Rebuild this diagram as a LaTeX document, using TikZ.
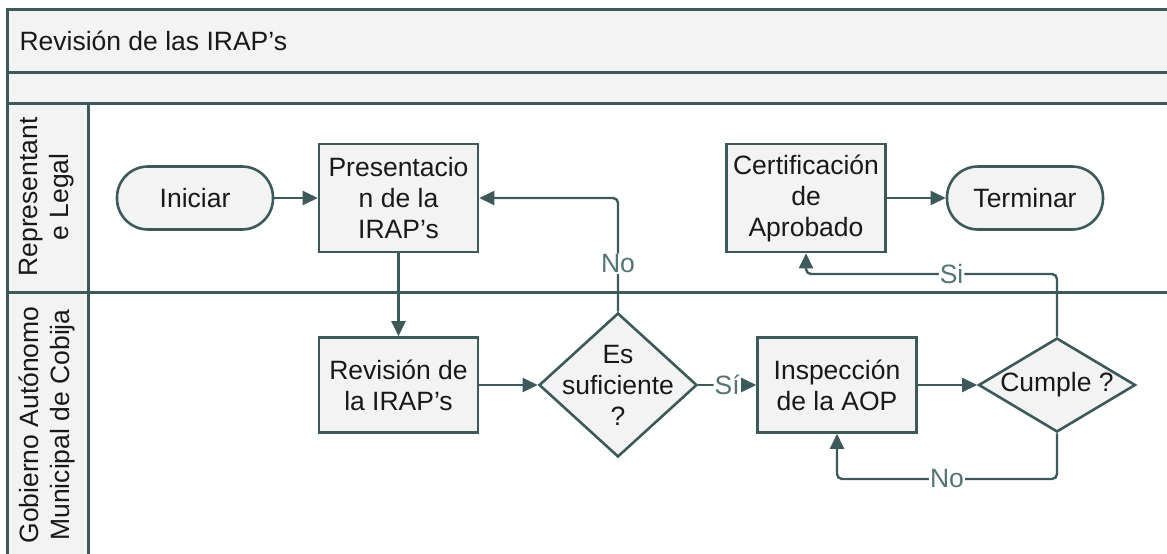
\documentclass[tikz,border=0pt]{standalone}
\usepackage{fontspec}
\setmainfont{Liberation Sans}
\usetikzlibrary{shapes.geometric,arrows.meta}
\definecolor{LineGray}{HTML}{3E5959}
\definecolor{FillGray}{HTML}{F2F3F2}
\definecolor{LabelTeal}{HTML}{557373}

\begin{document}
\begin{tikzpicture}[x=1pt, y=-1pt,
    every node/.style={font=\fontsize{26.5}{31}\selectfont, text=black!90},
    pbox/.style={draw=LineGray, line width=2.6pt, fill=FillGray, minimum width=159pt, minimum height=95pt, align=center, inner sep=0pt},
    term/.style={pbox, rounded corners=31pt, minimum width=156pt, minimum height=63pt},
    dec/.style={pbox, diamond, minimum width=158pt, minimum height=144pt},
    conn/.style={draw=LineGray, line width=2.4pt, -{Triangle[length=15pt,width=14pt]}, rounded corners=5pt},
    lbl/.style={fill=white, text=LabelTeal, inner sep=1pt}]
        \useasboundingbox (0,0) rectangle (1167,554);
        \clip (0,0) rectangle (1167,554);
        \fill[FillGray] (7,9) rectangle (1180,103);
        \fill[FillGray] (7,103) rectangle (88,570);
        \draw[LineGray, line width=3pt] (7,9) rectangle (1180,570);
        \foreach \y in {72,103,292} {
            \draw[LineGray, line width=3pt] (7,\y) -- (1180,\y);
        }
        \draw[LineGray, line width=3pt] (88,103) -- (88,570);
        \node[anchor=west] (title) at (16,41) {Revisión de las IRAP’s};
        \node[rotate=90, align=center] (laneA) at (47,197) {Representant\\e Legal};
        \node[rotate=90, align=center] (laneB) at (47,425) {Gobierno Autónomo\\Municipal de Cobija};

        \node[term] (ini) at (195,198) {Iniciar};
        \node[pbox, minimum height=108pt] (pres) at (398.5,198) {Presentacio\\n de la\\IRAP’s};
        \node[pbox] (rev) at (398.5,385) {Revisión de\\la IRAP’s};
        \node[dec] (suf) at (618,385) {};
        \node[align=center] (suftxt) at (suf) {Es\\suficiente\\?};
        \node[pbox] (insp) at (837,385) {Inspección\\de la AOP};
        \node[dec, minimum width=157pt, minimum height=94pt] (cum) at (1057,385) {};
        \node (cumtxt) at (cum) {Cumple ?};
        \node[pbox, minimum height=108pt] (cert) at (806,198) {Certificación\\de\\Aprobado};
        \node[term] (fin) at (1025,198) {Terminar};
        \coordinate (siturn) at (806,274);
        \coordinate (noturn) at (837,479);

        \draw[conn] (ini) -- (pres);
        \draw[conn] (pres) -- (rev);
        \draw[conn] (rev) -- (suf);
        \draw[conn] (suf) -- node[lbl] {Sí} (insp);
        \draw[conn] (suf.north) |- node[lbl, pos=0.21] {No} (pres.east);
        \draw[conn] (insp) -- (cum);
        \draw[conn] (cert) -- (fin);
        \draw[conn] (cum.north) |- node[lbl, pos=0.71] {Si} (siturn) -- (cert.south);
        \draw[conn] (cum.south) |- node[lbl, pos=0.75] {No} (noturn) -- (insp.south);
    \end{tikzpicture}
\end{document}
